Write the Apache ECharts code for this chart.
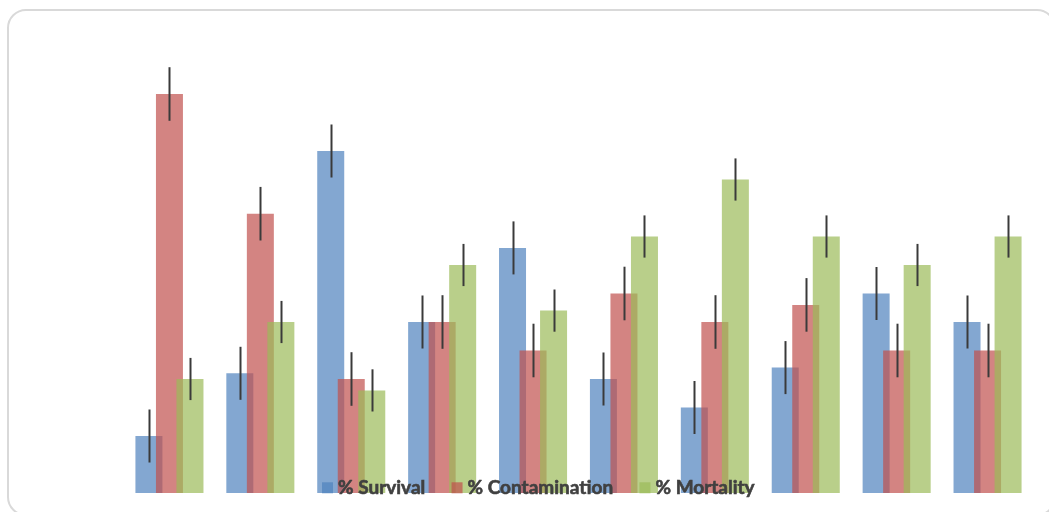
<!DOCTYPE html>
<html>
<head>
<meta charset="utf-8">
<script src="https://cdn.jsdelivr.net/npm/echarts@6/dist/echarts.min.js"></script>
<style>
html,body{margin:0;padding:0;background:#fff;}
#chart{width:1049px;height:512px;}
</style>
</head>
<body>
<div id="chart"></div>
<script>
// Data (percent)
const categories = ['1','2','3','4','5','6','7','8','9','10'];
const seriesNames = ['% Survival', '% Contamination', '% Mortality'];
const survival      = [10, 21, 60, 30, 43, 20, 15, 22, 35, 30];
const contamination = [70, 49, 20, 30, 25, 35, 30, 33, 25, 25];
const mortality     = [20, 30, 18, 40, 32, 45, 55, 45, 40, 45];
// Error bar half-lengths
const survivalErr      = [4.65, 4.65, 4.65, 4.65, 4.65, 4.65, 4.65, 4.65, 4.65, 4.65];
const contaminationErr = [4.7, 4.7, 4.7, 4.7, 4.7, 4.7, 4.7, 4.7, 4.7, 4.7];
const mortalityErr     = [3.7, 3.7, 3.7, 3.7, 3.7, 3.7, 3.7, 3.7, 3.7, 3.7];

const values = [survival, contamination, mortality];
const errs = [survivalErr, contaminationErr, mortalityErr];
const colors = ['#4f81bd', '#c0504d', '#9bbb59'];

const BAR_W = 27;
const BAR_GAP = -0.24;
const OFFSET = BAR_W * (1 + BAR_GAP);

const chart = echarts.init(document.getElementById('chart'), null, {renderer: 'canvas'});

const barSeries = values.map((v, k) => ({
  name: seriesNames[k],
  type: 'bar',
  data: v,
  barWidth: BAR_W,
  barGap: (BAR_GAP * 100) + '%',
  itemStyle: { color: colors[k], opacity: 0.7 },
  z: 2 + k,
  silent: true
}));

const errSeries = values.map((v, k) => ({
  name: 'err' + k,
  type: 'custom',
  z: 10,
  silent: true,
  data: v.map((val, i) => [i, val, errs[k][i]]),
  encode: { x: 0, y: 1 },
  renderItem: function (params, api) {
    const i = api.value(0), val = api.value(1), e = api.value(2);
    const top = api.coord([i, val + e]);
    const bot = api.coord([i, val - e]);
    const x = Math.round(top[0] + (k - 1) * OFFSET) + 0.5;
    return {
      type: 'line',
      shape: { x1: x, y1: top[1], x2: x, y2: bot[1] },
      style: { stroke: '#3a3a3a', lineWidth: 2 }
    };
  }
}));

chart.setOption({
  animation: false,
  backgroundColor: '#ffffff',
  graphic: [{
    type: 'rect',
    shape: { x: 8, y: 10, width: 1047, height: 505, r: 18 },
    style: { fill: 'none', stroke: '#d9d9d9', lineWidth: 2 },
    z: 0, silent: true
  }],
  grid: { left: 124, width: 909, top: 37, height: 456 },
  xAxis: {
    type: 'category',
    data: categories,
    show: false
  },
  yAxis: {
    type: 'value',
    min: 0, max: 80,
    show: false
  },
  legend: {
    data: seriesNames,
    left: 317,
    top: 473,
    icon: 'rect',
    itemWidth: 11,
    itemHeight: 11,
    itemGap: 26,
    textStyle: {
      fontFamily: 'Lato', fontWeight: 'bold', fontSize: 19, color: '#404040',
      textBorderColor: '#404040', textBorderWidth: 0.6
    },
    z: 20
  },
  series: barSeries.concat(errSeries)
});
</script>
</body>
</html>
